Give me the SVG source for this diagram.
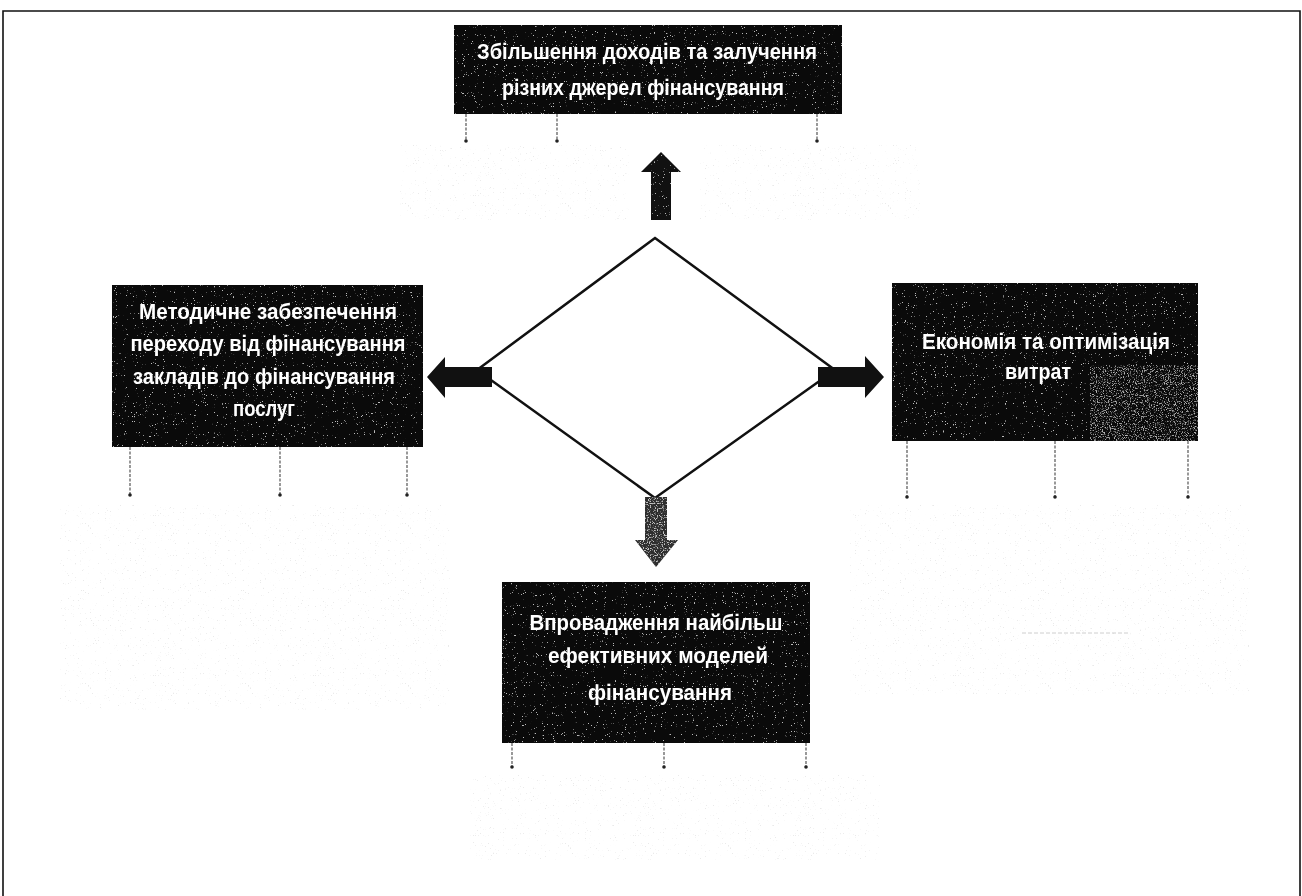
<svg xmlns="http://www.w3.org/2000/svg" width="1302" height="896" viewBox="0 0 1302 896">
<style>
.box{fill:#0a0a0a}
.lbl{font-family:"Liberation Sans",Arial,sans-serif;font-weight:bold;font-size:22px;fill:#ffffff;text-anchor:middle}
.stub{stroke:#555;stroke-width:1.2;stroke-dasharray:3 1.5;fill:none}
.dot{fill:#222}
.arrow{fill:#111}
</style>
<defs>
<filter id="grain" x="0" y="0" width="100%" height="100%">
<feTurbulence type="fractalNoise" baseFrequency="0.9" numOctaves="2" seed="4" result="n"/>
<feColorMatrix in="n" type="matrix" values="0 0 0 0 0.5  0 0 0 0 0.5  0 0 0 0 0.5  0 0 0 16 -11.2" result="s"/>
<feComposite in="s" in2="SourceGraphic" operator="in"/>
</filter>
<filter id="ghost" x="0" y="0" width="100%" height="100%">
<feTurbulence type="fractalNoise" baseFrequency="1.6" numOctaves="1" seed="9" result="n"/>
<feColorMatrix in="n" type="matrix" values="0 0 0 0 0.55  0 0 0 0 0.55  0 0 0 0 0.55  0 0 0 14 -9.6" result="s"/>
<feComposite in="s" in2="SourceGraphic" operator="in"/>
</filter>
<filter id="light" x="0" y="0" width="100%" height="100%">
<feTurbulence type="fractalNoise" baseFrequency="0.85" numOctaves="2" seed="7" result="n"/>
<feColorMatrix in="n" type="matrix" values="0 0 0 0 0.55  0 0 0 0 0.55  0 0 0 0 0.55  0 0 0 6 -3.2" result="s"/>
<feComposite in="s" in2="SourceGraphic" operator="in"/>
</filter>
</defs>
<rect x="0" y="0" width="1302" height="896" fill="#ffffff"/>
<path d="M3,900 V11 H1300 V900" fill="none" stroke="#111" stroke-width="1.6"/>

<g id="ghosts" opacity="0.35">
<rect x="400" y="145" width="230" height="75" fill="#fff" filter="url(#ghost)"/>
<rect x="700" y="145" width="220" height="75" fill="#fff" filter="url(#ghost)"/>
<rect x="60" y="505" width="390" height="205" fill="#fff" filter="url(#ghost)"/>
<rect x="850" y="505" width="400" height="190" fill="#fff" filter="url(#ghost)"/>
<rect x="470" y="775" width="410" height="85" fill="#fff" filter="url(#ghost)"/>
<line x1="1022" y1="633" x2="1130" y2="633" stroke="#777" stroke-width="1" stroke-dasharray="4 2"/>
</g>

<g id="node-top">
<rect class="box" x="454" y="25" width="388" height="89"/>
<rect x="454" y="25" width="388" height="89" fill="#fff" filter="url(#grain)"/>
<text class="lbl" x="647" y="59" textLength="340" lengthAdjust="spacingAndGlyphs">Збільшення доходів та залучення</text>
<text class="lbl" x="643" y="95" textLength="282" lengthAdjust="spacingAndGlyphs">різних джерел фінансування</text>
</g>

<g id="node-left">
<rect class="box" x="112" y="285" width="311" height="162"/>
<rect x="112" y="285" width="311" height="162" fill="#fff" filter="url(#grain)"/>
<text class="lbl" x="268" y="319" textLength="258" lengthAdjust="spacingAndGlyphs">Методичне забезпечення</text>
<text class="lbl" x="268" y="351" textLength="275" lengthAdjust="spacingAndGlyphs">переходу від фінансування</text>
<text class="lbl" x="264" y="384" textLength="262" lengthAdjust="spacingAndGlyphs">закладів до фінансування</text>
<text class="lbl" x="264" y="416" textLength="62" lengthAdjust="spacingAndGlyphs">послуг</text>
</g>

<g id="node-right">
<rect class="box" x="892" y="283" width="306" height="158"/>
<rect x="1090" y="365" width="108" height="76" fill="#fff" filter="url(#light)" opacity="0.8"/>
<rect x="892" y="283" width="306" height="158" fill="#fff" filter="url(#grain)"/>
<text class="lbl" x="1046" y="349" textLength="248" lengthAdjust="spacingAndGlyphs">Економія та оптимізація</text>
<text class="lbl" x="1038" y="379" textLength="66" lengthAdjust="spacingAndGlyphs">витрат</text>
</g>

<g id="node-bottom">
<rect class="box" x="502" y="582" width="308" height="161"/>
<rect x="502" y="582" width="308" height="161" fill="#fff" filter="url(#grain)"/>
<text class="lbl" x="656" y="630" textLength="253" lengthAdjust="spacingAndGlyphs">Впровадження найбільш</text>
<text class="lbl" x="658" y="663" textLength="220" lengthAdjust="spacingAndGlyphs">ефективних моделей</text>
<text class="lbl" x="660" y="700" textLength="144" lengthAdjust="spacingAndGlyphs">фінансування</text>
</g>

<g id="node-center">
<polygon points="655,238 835,370 655,498 477,370" fill="#fff" stroke="#111" stroke-width="2.5" stroke-linejoin="miter"/>
</g>

<g id="connectors">
<polygon class="arrow" points="651,220 671,220 671,172 681,172 661,152 641,172 651,172"/>
<polygon points="651,220 671,220 671,172 681,172 661,152 641,172 651,172" fill="#fff" filter="url(#grain)"/>
<polygon class="arrow" points="492,367 445,367 445,357 427,377 445,398 445,387 492,387"/>
<polygon class="arrow" points="818,367 865,367 865,356 884,377 865,398 865,387 818,387"/>
<polygon fill="#2e2e2e" points="645,497 667,497 667,540 678,540 656,567 635,540 645,540"/>
<polygon points="645,497 667,497 667,540 678,540 656,567 635,540 645,540" fill="#fff" filter="url(#light)"/>

<g id="stubs">
<line class="stub" x1="466" y1="114" x2="466" y2="140"/>
<line class="stub" x1="557" y1="114" x2="557" y2="140"/>
<line class="stub" x1="817" y1="114" x2="817" y2="140"/>
<line class="stub" x1="130" y1="447" x2="130" y2="494"/>
<line class="stub" x1="280" y1="447" x2="280" y2="494"/>
<line class="stub" x1="407" y1="447" x2="407" y2="494"/>
<line class="stub" x1="907" y1="441" x2="907" y2="496"/>
<line class="stub" x1="1055" y1="441" x2="1055" y2="496"/>
<line class="stub" x1="1188" y1="441" x2="1188" y2="496"/>
<line class="stub" x1="512" y1="743" x2="512" y2="766"/>
<line class="stub" x1="664" y1="743" x2="664" y2="766"/>
<line class="stub" x1="806" y1="743" x2="806" y2="766"/>
<circle class="dot" cx="466" cy="141" r="1.8"/>
<circle class="dot" cx="557" cy="141" r="1.8"/>
<circle class="dot" cx="817" cy="141" r="1.8"/>
<circle class="dot" cx="130" cy="495" r="1.8"/>
<circle class="dot" cx="280" cy="495" r="1.8"/>
<circle class="dot" cx="407" cy="495" r="1.8"/>
<circle class="dot" cx="907" cy="497" r="1.8"/>
<circle class="dot" cx="1055" cy="497" r="1.8"/>
<circle class="dot" cx="1188" cy="497" r="1.8"/>
<circle class="dot" cx="512" cy="767" r="1.8"/>
<circle class="dot" cx="664" cy="767" r="1.8"/>
<circle class="dot" cx="806" cy="767" r="1.8"/>
</g>
</g>
</svg>
